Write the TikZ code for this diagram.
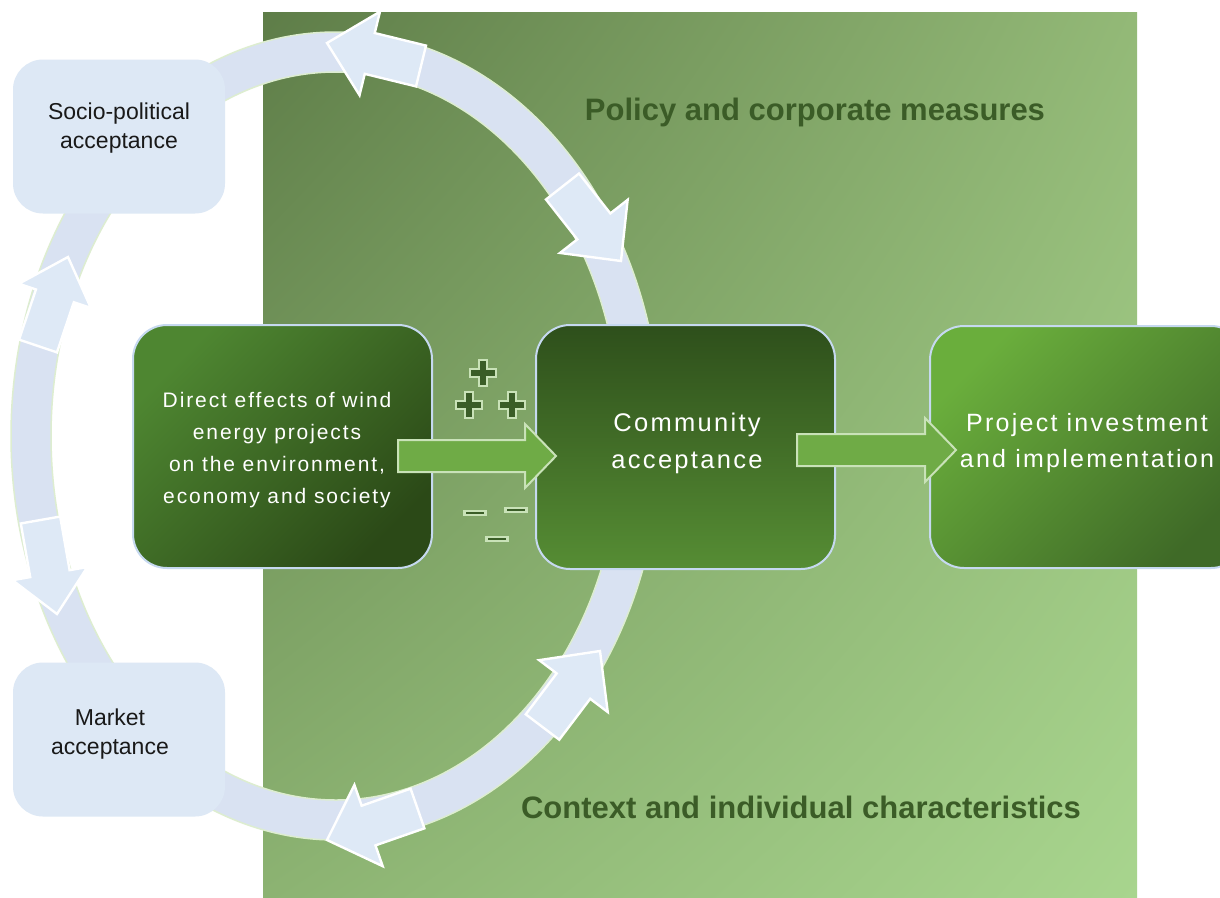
\documentclass[tikz,border=0pt]{standalone}
\usepackage{fontspec}
\setmainfont{Liberation Sans}
\newfontfamily\spacedsans{Liberation Sans}[LetterSpace=9]
\usetikzlibrary{calc,shadings}

% palette
\definecolor{bgTL}{HTML}{5E7D48}
\definecolor{bgTR}{HTML}{93B977}
\definecolor{bgBL}{HTML}{8CB372}
\definecolor{bgBR}{HTML}{A8D58E}
\definecolor{ringblue}{HTML}{D9E2F2}
\definecolor{ringline}{HTML}{DDEDD0}
\definecolor{arrowblue}{HTML}{DEE9F6}
\definecolor{paleblue}{HTML}{DDE8F5}
\definecolor{boxline}{HTML}{C6D9F0}
\definecolor{leafgreen}{HTML}{6FAB46}
\definecolor{leafline}{HTML}{C9E2B8}
\definecolor{headgreen}{HTML}{3B5C27}
\definecolor{signfill}{HTML}{3A5D27}
\definecolor{effTL}{HTML}{4E8631}
\definecolor{effBR}{HTML}{2B4917}
\definecolor{comTop}{HTML}{2E4F1B}
\definecolor{comBot}{HTML}{568D34}
\definecolor{proTL}{HTML}{6AAE3C}
\definecolor{proBR}{HTML}{3F6A27}

% straight block arrow: style, tail centre, tip, shaft half width, head half width, head length
\newcommand\bArrow[6]{%
  \coordinate (bA-T) at (#2);
  \coordinate (bA-P) at (#3);
  \coordinate (bA-S) at ($(bA-P)!#6!(bA-T)$);
  \draw[#1] ($(bA-T)!#4!90:(bA-P)$) -- ($(bA-S)!#4!90:(bA-P)$)
    -- ($(bA-S)!#5!90:(bA-P)$) -- (bA-P) -- ($(bA-S)!#5!-90:(bA-P)$)
    -- ($(bA-S)!#4!-90:(bA-P)$) -- ($(bA-T)!#4!-90:(bA-P)$) -- cycle;}

\tikzset{
  ringarrow/.style={fill=arrowblue, draw=white, line width=2.4pt, line join=miter},
  flowarrow/.style={fill=leafgreen, draw=leafline, line width=2pt, line join=miter},
  lightbox/.style={rectangle, rounded corners=30pt, fill=paleblue,
    minimum width=212pt, minimum height=154pt, inner sep=0pt},
  lighttext/.style={align=center, text=black!90, inner sep=0pt,
    font=\fontsize{23}{29.5}\selectfont},
  greenbox/.style={rectangle, rounded corners=34pt, draw=boxline, line width=2pt,
    inner sep=0pt},
  greentext/.style={align=center, text=white, inner sep=0pt},
  heading/.style={text=headgreen, inner sep=0pt,
    font=\fontsize{31}{36}\selectfont\bfseries},
  signstyle/.style={fill=signfill, draw=leafline, line width=2.2pt, line join=miter},
  plussign/.pic={
    \draw[signstyle] (-4.2,-13.2) -- (4.2,-13.2) -- (4.2,-4.2) -- (13.2,-4.2)
      -- (13.2,4.2) -- (4.2,4.2) -- (4.2,13.2) -- (-4.2,13.2) -- (-4.2,4.2)
      -- (-13.2,4.2) -- (-13.2,-4.2) -- (-4.2,-4.2) -- cycle;},
  minussign/.pic={
    \draw[signstyle] (-10.5,-2) rectangle (10.5,2);}
}

\begin{document}
\begin{tikzpicture}[x=1pt,y=-1pt]
\useasboundingbox (0,0) rectangle (1220,897);
\clip (0,0) rectangle (1220,897);
\fill[white] (0,0) rectangle (1220,897);

% shaded backdrop
\shade[upper left=bgTL, upper right=bgTR, lower left=bgBL, lower right=bgBR]
  (263,12) rectangle (1137,897);

% acceptance ring
\fill[ringblue, even odd rule]
  (336,436) ellipse [x radius=325pt, y radius=404pt]
  (336,436) ellipse [x radius=285pt, y radius=364pt];
\draw[ringline, line width=1.5pt]
  (336,436) ellipse [x radius=325pt, y radius=404pt]
  (336,436) ellipse [x radius=285pt, y radius=364pt];

% arrows along the ring
\bArrow{ringarrow}{421,66}{327,43}{21pt}{43pt}{44pt}
\bArrow{ringarrow}{562.5,186.5}{621,261}{21pt}{43pt}{44pt}
\bArrow{ringarrow}{38,346}{68,257}{20pt}{38pt}{41pt}
\bArrow{ringarrow}{40.5,520}{57,614}{20pt}{38pt}{41pt}
\bArrow{ringarrow}{542.5,727}{600,651}{21pt}{43pt}{44pt}
\bArrow{ringarrow}{417.5,808.5}{327,840}{21pt}{43pt}{44pt}

% acceptance dimensions
\node[lightbox] (socio) at (119,136.5) {};
\node[lighttext] (socio-label) at (119,128) {Socio-political\\acceptance};
\node[lightbox] (market) at (119,739.5) {};
\node[lighttext] (market-label) at (110,734) {Market\\acceptance};

\node[greenbox, minimum width=299pt, minimum height=243pt,
  top color=effTL, bottom color=effBR, shading angle=45] (effects) at (282.5,446.5) {};
\node[greenbox, minimum width=299pt, minimum height=244pt,
  top color=comTop, bottom color=comBot] (community) at (685.5,447) {};
\node[greenbox, minimum width=315pt, minimum height=242pt,
  top color=proTL, bottom color=proBR, shading angle=45] (project) at (1087.5,447) {};

\node[greentext, font=\spacedsans\fontsize{21}{31.8}\selectfont] (effects-label)
  at (277,450) {Direct effects of wind\\energy projects\\on the environment,\\economy and society};
\node[greentext, font=\spacedsans\fontsize{25.5}{37}\selectfont] (community-label)
  at (687,443) {Community\\acceptance};
\node[greentext, font=\spacedsans\fontsize{25}{36}\selectfont] (project-label)
  at (1087,443.5) {Project investment\\and implementation};

% flow arrows
\coordinate (flowA-tail) at (398,456);
\coordinate (flowA-tip) at (556,456);
\coordinate (flowB-tail) at (797,450);
\coordinate (flowB-tip) at (956,450);
\bArrow{flowarrow}{flowA-tail}{flowA-tip}{16pt}{32pt}{31pt}
\bArrow{flowarrow}{flowB-tail}{flowB-tip}{16pt}{32pt}{31pt}

% positive and negative effects
\pic at (483,373) {plussign};
\pic at (469,405) {plussign};
\pic at (512,405) {plussign};
\pic at (475,513) {minussign};
\pic at (516,510) {minussign};
\pic at (497,539) {minussign};

% framing conditions
\node[heading, anchor=base] (policy) at (815,120) {Policy and corporate measures};
\node[heading, anchor=base] (context) at (801,818) {Context and individual characteristics};
\end{tikzpicture}
\end{document}
